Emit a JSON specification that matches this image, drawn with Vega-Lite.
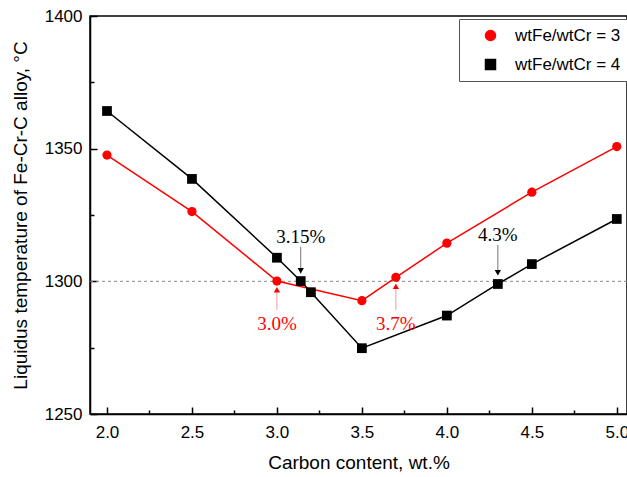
{
  "$schema": "https://vega.github.io/schema/vega-lite/v6.json",
  "width": 537,
  "height": 398,
  "autosize": "none",
  "padding": {"left": 90, "top": 16, "right": 0, "bottom": 63},
  "background": "white",
  "config": {
    "view": {"stroke": "black", "strokeWidth": 1.5},
    "axis": {"grid": false, "domainColor": "black", "domainWidth": 1.5, "tickColor": "black", "tickWidth": 1.5, "labelColor": "black", "titleColor": "black", "labelFont": "Liberation Sans", "titleFont": "Liberation Sans", "labelFontSize": 17, "titleFontSize": 19, "titleFontWeight": "normal"}
  },
  "resolve": {"axis": {"x": "independent", "y": "independent"}},
  "datasets": {
    "main": [
      {"c": 2.0, "t": 1347.6, "series": "3"},
      {"c": 2.5, "t": 1326.3, "series": "3"},
      {"c": 3.0, "t": 1300.1, "series": "3"},
      {"c": 3.5, "t": 1292.7, "series": "3"},
      {"c": 3.7, "t": 1301.5, "series": "3"},
      {"c": 4.0, "t": 1314.4, "series": "3"},
      {"c": 4.5, "t": 1333.6, "series": "3"},
      {"c": 5.0, "t": 1350.8, "series": "3"},
      {"c": 2.0, "t": 1364.2, "series": "4"},
      {"c": 2.5, "t": 1338.6, "series": "4"},
      {"c": 3.0, "t": 1308.9, "series": "4"},
      {"c": 3.14, "t": 1300.1, "series": "4"},
      {"c": 3.2, "t": 1295.9, "series": "4"},
      {"c": 3.5, "t": 1274.8, "series": "4"},
      {"c": 4.0, "t": 1287.1, "series": "4"},
      {"c": 4.3, "t": 1299.0, "series": "4"},
      {"c": 4.5, "t": 1306.5, "series": "4"},
      {"c": 5.0, "t": 1323.5, "series": "4"}
    ],
    "ann": [
      {"c": 3.14, "label": "3.15%", "tpos": 1316.7, "a0": 1313.0, "a1": 1303.0, "head": 1304.0, "series": "4"},
      {"c": 4.3, "label": "4.3%", "tpos": 1317.3, "a0": 1313.7, "a1": 1302.5, "head": 1303.2, "series": "4"},
      {"c": 3.0, "label": "3.0%", "tpos": 1283.9, "a0": 1289.2, "a1": 1297.5, "head": 1296.8, "series": "3"},
      {"c": 3.7, "label": "3.7%", "tpos": 1283.9, "a0": 1289.2, "a1": 1298.8, "head": 1298.1, "series": "3"}
    ],
    "ref": [{"t": 1300}]
  },
  "layer": [
    {
      "data": {"name": "ref"},
      "mark": {"type": "rule", "color": "#888888", "strokeDash": [3, 3], "strokeWidth": 1},
      "encoding": {"y": {"field": "t", "type": "quantitative", "scale": {"domain": [1250, 1400]}, "axis": null}}
    },
    {
      "data": {"name": "main"},
      "mark": {"type": "line", "strokeWidth": 1.5},
      "encoding": {
        "x": {"field": "c", "type": "quantitative", "scale": {"domain": [1.9, 5.06], "nice": false, "zero": false},
          "axis": {"orient": "bottom", "title": "Carbon content, wt.%", "values": [2, 2.5, 3, 3.5, 4, 4.5, 5], "format": ".1f",
            "ticks": false, "labelPadding": 10, "titlePadding": 13}},
        "y": {"field": "t", "type": "quantitative", "scale": {"domain": [1250, 1400], "nice": false, "zero": false},
          "axis": {"orient": "left", "title": "Liquidus temperature of Fe-Cr-C alloy, °C", "values": [1250, 1300, 1350, 1400], "format": "d",
            "ticks": false, "labelPadding": 8, "titlePadding": 14}},
        "color": {"field": "series", "type": "nominal",
          "scale": {"domain": ["3", "4"], "range": ["#ff0000", "#000000"]},
          "legend": {
            "title": null, "orient": "none", "legendX": 369, "legendY": 3,
            "labelExpr": "'wtFe/wtCr = ' + datum.value",
            "labelFont": "Liberation Sans", "labelFontSize": 17, "labelColor": "black",
            "strokeColor": "#555555", "fillColor": "white", "padding": 8,
            "symbolSize": 100, "symbolStrokeWidth": 1.5, "symbolOffset": 15, "labelOffset": 16, "rowPadding": 11
          }}
      }
    },
    {
      "data": {"name": "main"},
      "mark": {"type": "point", "filled": true, "opacity": 1},
      "encoding": {
        "x": {"field": "c", "type": "quantitative",
          "axis": {"orient": "top", "offset": -398, "values": [2, 2.5, 3, 3.5, 4, 4.5, 5], "labels": false, "domain": false, "title": null, "ticks": true, "tickSize": 7}},
        "y": {"field": "t", "type": "quantitative",
          "axis": {"orient": "right", "offset": -537, "values": [1250, 1300, 1350, 1400], "labels": false, "domain": false, "title": null, "ticks": true, "tickSize": 7}},
        "color": {"field": "series", "type": "nominal"},
        "shape": {"field": "series", "type": "nominal", "scale": {"domain": ["3", "4"], "range": ["circle", "square"]}},
        "size": {"condition": {"test": "datum.series == '3'", "value": 85}, "value": 95}
      }
    },
    {
      "data": {"name": "ann"},
      "mark": {"type": "rule", "strokeWidth": 1},
      "encoding": {
        "x": {"field": "c", "type": "quantitative",
          "axis": {"orient": "top", "offset": -398, "values": [2.25, 2.75, 3.25, 3.75, 4.25, 4.75], "labels": false, "domain": false, "title": null, "ticks": true, "tickSize": 4}},
        "y": {"field": "a0", "type": "quantitative",
          "axis": {"orient": "right", "offset": -537, "values": [1275, 1325, 1375], "labels": false, "domain": false, "title": null, "ticks": true, "tickSize": 4}},
        "y2": {"field": "a1"},
        "color": {"condition": {"test": "datum.series == '3'", "value": "#f29a9a"}, "value": "#777777"}
      }
    },
    {
      "data": {"name": "ann"},
      "mark": {"type": "point", "filled": true, "opacity": 1, "size": 40},
      "encoding": {
        "x": {"field": "c", "type": "quantitative", "axis": null},
        "y": {"field": "head", "type": "quantitative", "axis": null},
        "shape": {"condition": {"test": "datum.series == '4'", "value": "triangle-down"}, "value": "triangle-up"},
        "color": {"condition": {"test": "datum.series == '3'", "value": "#ff0000"}, "value": "#000000"}
      }
    },
    {
      "data": {"name": "ann"},
      "mark": {"type": "text", "font": "Liberation Serif", "fontSize": 19, "baseline": "middle", "align": "center"},
      "encoding": {
        "x": {"field": "c", "type": "quantitative", "axis": null},
        "y": {"field": "tpos", "type": "quantitative", "axis": null},
        "text": {"field": "label"},
        "color": {"condition": {"test": "datum.series == '3'", "value": "#ff0000"}, "value": "#000000"}
      }
    }
  ]
}
